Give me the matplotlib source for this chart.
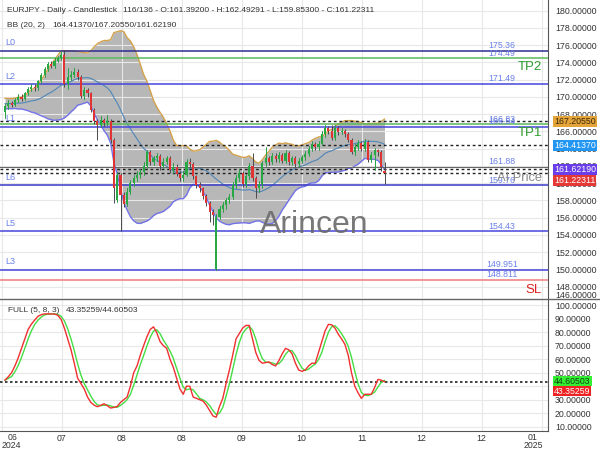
import numpy as np
import pandas as pd
import matplotlib
matplotlib.use('Agg')
import matplotlib.pyplot as plt
from matplotlib.transforms import blended_transform_factory

plt.rcParams['font.family'] = ['Liberation Sans', 'DejaVu Sans']

# ---------------- data ----------------
pre_closes = [168.8, 169.3, 169.0, 169.5, 169.7, 169.2, 168.9, 169.4, 169.8, 169.5,
              169.0, 168.7, 169.1, 169.6, 169.3, 168.9, 169.2, 169.5, 169.0]
first_open = 168.2
open_overrides = {34: 158.0, 64: 150.0, 115: 161.392}
closes = [168.9, 169.3, 169.1, 169.6, 170.0, 169.8, 170.4, 170.9, 171.2, 171.0, 171.8, 172.5, 173.2, 173.8, 173.6, 174.2, 174.5, 174.9,
          171.5, 172.3, 172.6, 172.9, 172.3, 170.1, 170.8, 170.4, 168.5, 167.2, 166.8, 167.3, 167.0, 167.2, 165.0, 159.5,
          161.0, 158.6, 157.6, 159.0, 160.0, 160.6, 160.9, 161.3, 162.0, 163.6, 162.4, 162.9, 163.2, 162.0, 162.5, 162.9, 161.5,
          161.9, 161.1, 160.6, 161.0, 162.5, 162.2, 160.8, 159.8, 159.4, 158.5, 157.7, 156.7, 156.3, 156.1,
          157.0, 157.5, 158.0, 158.4, 159.8, 160.6, 161.2, 159.9, 160.8, 162.0, 160.6, 159.4, 159.9, 162.3, 162.9, 162.5,
          163.2, 162.8, 163.3, 162.6, 163.5, 162.4, 162.9, 162.2, 162.6, 163.0, 163.4, 164.0, 164.6, 164.2, 164.6, 165.7, 166.4, 166.0, 165.2,
          166.4, 165.9, 166.1, 165.7, 165.0, 163.6, 164.2, 164.7, 164.0, 164.8, 162.7, 163.3, 163.8, 163.6, 161.9, 161.223]
highs = [169.2, 169.6, 169.5, 169.9, 170.3, 170.3, 170.6, 171.2, 171.5, 171.5, 172.0, 172.8, 173.5, 174.1, 174.2, 174.5, 174.8, 175.3,
         175.4, 173.4, 173.0, 173.3, 173.2, 172.5, 171.2, 171.0, 170.6, 168.7, 167.4, 167.8, 167.6, 167.9, 167.4, 165.2,
         161.3, 161.2, 159.0, 159.4, 160.4, 161.0, 161.4, 161.7, 162.4, 163.9, 163.8, 163.2, 163.5, 163.4, 162.9, 163.2, 163.1,
         162.3, 162.2, 161.4, 161.4, 162.8, 162.9, 162.4, 161.0, 160.1, 159.6, 158.7, 157.9, 157.0, 156.4,
         157.3, 157.8, 158.3, 158.8, 160.1, 160.9, 161.6, 161.4, 161.1, 162.3, 163.5, 160.8, 160.3, 162.6, 164.2, 163.2,
         163.5, 163.5, 163.6, 163.5, 163.8, 163.7, 163.2, 163.1, 162.9, 163.3, 163.7, 164.3, 164.9, 164.8, 164.9, 166.0, 166.7, 166.6, 166.7,
         166.7, 166.6, 166.4, 166.3, 165.9, 165.2, 164.5, 165.0, 164.9, 165.1, 165.0, 163.6, 164.1, 164.0, 163.8, 162.493]
lows = [167.6, 168.6, 168.8, 168.9, 169.4, 169.5, 169.6, 170.2, 170.7, 170.7, 170.8, 171.6, 172.3, 173.0, 173.3, 173.4, 174.0, 174.3,
        171.2, 170.9, 172.0, 172.3, 172.0, 169.9, 169.8, 170.0, 168.2, 166.9, 165.0, 166.5, 166.6, 166.8, 164.7, 157.7,
        157.8, 154.4, 157.2, 157.3, 158.7, 159.7, 160.2, 160.6, 161.0, 161.8, 162.1, 162.1, 162.6, 161.5, 161.8, 162.2, 161.2,
        161.2, 160.8, 160.3, 160.3, 160.8, 161.9, 160.5, 159.5, 159.0, 158.2, 157.4, 155.5, 155.2, 149.95,
        155.8, 156.7, 157.0, 157.7, 158.2, 159.5, 160.3, 159.6, 159.6, 160.5, 160.3, 158.3, 159.0, 159.4, 162.0, 162.1,
        162.2, 162.4, 162.5, 162.3, 162.3, 162.1, 162.1, 161.9, 161.9, 162.3, 162.7, 163.1, 163.7, 163.9, 163.9, 164.4, 165.4, 165.7, 165.0,
        165.0, 165.6, 165.7, 165.4, 164.8, 163.4, 163.3, 163.9, 163.7, 163.7, 162.4, 162.4, 161.5, 163.2, 161.4, 159.853]
stoch_k = [44.5, 47, 50, 55, 61, 68, 75, 82, 86, 89,
           91.8, 93, 93.6, 93.6, 93.5, 93.5, 92.5, 89.5, 83, 75,
           67, 57, 46, 42, 38, 32, 28, 26, 24.8, 25.8,
           27, 25.5, 23.8, 24.3, 25, 28, 30, 32, 40, 50,
           55, 63, 70, 76.5, 82, 84, 79.5, 73, 70, 68,
           60, 54, 46, 38, 34, 40, 40, 32, 31, 30,
           29, 26, 22, 18, 17, 25, 31, 42, 52, 63,
           75, 79, 83, 85, 85, 75, 65, 59, 57, 57.5,
           58, 56, 55, 59, 64, 68, 67, 64, 57, 52,
           51, 52, 55, 57, 57, 65, 73, 81, 85.8, 85.5,
           83, 78.5, 75, 71, 63, 50, 40, 35, 31, 34,
           34, 34, 39, 45, 44.5, 43.35]

bb_mid_last, bb_up_last, bb_lo_last = 164.41370, 167.20550, 161.62190
last_close = 161.22311
stoch_k_last, stoch_d_last = 43.35259, 44.60503

# level lines: (price, left label, colour)
blue_levels = [(175.36, 'L0', '#2c2c90'), (171.49, 'L2', '#4646dc'), (166.54, 'L1', '#4646dc'),
               (159.76, 'L6', '#3a3ac8'), (154.43, 'L5', '#4646dc'), (149.951, 'L3', '#4646dc')]
green_levels = [(174.49, 'TP2'), (166.83, 'TP1')]
red_levels = [(148.811, 'SL')]
gray_levels = [161.88]
right_labels = ['175.36', '174.49', '171.49', '166.83', '166.54', '161.88', '159.76', '154.43', '149.951', '148.811']

x_tick_labels = ['06', '07', '08', '08', '09', '10', '11', '12', '12', '01']
year_labels = ['2024', '2025']
price_ticks = list(range(148, 181, 2))
stoch_ticks = list(range(10, 101, 10))

# ---------------- derived ----------------
n = len(closes)
x = np.arange(n)
opens = [first_open] + closes[:-1]
for kk, v in open_overrides.items():
    opens[kk] = v
o = np.array(opens); c = np.array(closes); h = np.array(highs); l = np.array(lows)

full = pd.Series(pre_closes + closes)
mid = full.rolling(20).mean().to_numpy()[-n:]
sd = full.rolling(20).std(ddof=0).to_numpy()[-n:]
up_band = mid + 2 * sd
lo_band = mid - 2 * sd

k = pd.Series(stoch_k)
d = k.rolling(3, min_periods=1).mean()

# ---------------- figure ----------------
W, H = 600, 450
fig = plt.figure(figsize=(6, 4.5), dpi=100)
axw = 548 / W
ax = fig.add_axes([0, 1 - 298 / H, axw, 298 / H])
ax2 = fig.add_axes([0, 1 - 431 / H, axw, (431 - 299) / H])

px_per_bar = 3.3
x0 = -5 / px_per_bar
x1 = x0 + 548 / px_per_bar
tick_pos = x0 + (1.7 + 60 * np.arange(len(x_tick_labels))) / px_per_bar

for a in (ax, ax2):
    a.set_xlim(x0, x1)
    a.set_xticks(tick_pos)
    a.grid(True, color='#e8e8e8', lw=0.8, zorder=0)
    a.yaxis.tick_right()
    a.tick_params(axis='both', length=0, labelsize=6.3, colors='#333333', pad=5)
    for s in ('left', 'top', 'bottom'):
        a.spines[s].set_visible(False)
    a.spines['right'].set_color('#555555')

ax.set_ylim(146.69, 181.24)
ax.set_yticks(price_ticks)
ax.set_yticklabels([f'{t:.5f}' for t in price_ticks])
ax.tick_params(axis='x', labelbottom=False)

# Bollinger band
ax.fill_between(x, lo_band, up_band, color='#ababab', alpha=0.85, lw=0, zorder=1)
ax.plot(x, up_band, color='#d4a24a', lw=1.0, zorder=2)
ax.plot(x, lo_band, color='#7474ea', lw=1.0, zorder=2)
ax.plot(x, mid, color='#4f86b8', lw=0.8, zorder=2)

# level lines
for p, lab, col in blue_levels:
    ax.axhline(p, color=col, lw=1.1, zorder=3)
    ax.annotate(lab, xy=(0, p), xytext=(0, 2.5), textcoords='offset points',
                ha='left', va='bottom', fontsize=6.5, color='#6a80e8', zorder=6)
for p, lab in green_levels:
    ax.axhline(p, color='#5cb85c', lw=1.1, zorder=3)
    ax.annotate(lab, xy=(162.7, p), xytext=(0, -2), textcoords='offset points',
                ha='right', va='top', fontsize=9.5, color='#2e9b2e', zorder=6)
for p, lab in red_levels:
    ax.axhline(p, color='#f07c7c', lw=1.1, zorder=3)
    ax.annotate(lab, xy=(162.7, p), xytext=(0, -3), textcoords='offset points',
                ha='right', va='top', fontsize=9.5, color='#e02020', zorder=6)
for p in gray_levels:
    ax.axhline(p, color='#666666', lw=0.8, zorder=3)
for p in (bb_up_last, bb_mid_last, bb_lo_last, last_close):
    ax.axhline(p, color='#222222', lw=1.0, ls=(0, (2, 2)), zorder=3)

for t in right_labels:
    ax.annotate(t, xy=(150.6, float(t)), xytext=(0, 0.5), textcoords='offset points',
                ha='center', va='bottom', fontsize=6.3, color='#6a80e8', zorder=6)

# candles
upc = c >= o
cols = np.where(upc, '#27a844', '#e03434')
ax.vlines(x, l, h, color='#4a4a4a', lw=0.7, zorder=4)
ax.vlines(x[upc], l[upc], h[upc], color='#27a844', lw=0.7, zorder=4)
body_lo = np.minimum(o, c)
body_h = np.maximum(np.abs(c - o), 0.08)
ax.bar(x, body_h, bottom=body_lo, width=0.65, color=cols, lw=0, zorder=5)

# texts on main panel
ax.text(541.7 / 548, 160.55, 'AI Price', transform=blended_transform_factory(ax.transAxes, ax.transData),
        ha='right', va='center', fontsize=9.3, color='#8a8a8a', zorder=7)
ax.text(314 / 548, 1 - 225 / 298, 'Arincen', transform=ax.transAxes, ha='center', va='center',
        fontsize=23, color='#6a6a6a', alpha=0.9, zorder=7)

# stochastic panel
ax2.set_ylim(6.8, 104.6)
ax2.set_yticks(stoch_ticks)
ax2.set_yticklabels([f'{t:.5f}' for t in stoch_ticks])
ax2.set_xticklabels([''] + x_tick_labels[1:-1] + [''])
ax2.spines['bottom'].set_visible(True)
ax2.spines['bottom'].set_color('#555555')
ax2.plot(x, k, color='#f03030', lw=1.0, zorder=4)
ax2.plot(x, d, color='#44dd44', lw=1.0, zorder=3)
ax2.axhline(stoch_k_last, color='#222222', lw=1.2, ls=(0, (1.5, 1.5)), zorder=2)
ax2.tick_params(axis='x', pad=2)

# first/last month labels (kept inside the frame) and year labels
def btext(px, py, s, ha='center'):
    fig.text(px / W, 1 - py / H, s, ha=ha, va='center', fontsize=6.3, color='#333333')

btext(12.5, 437.5, x_tick_labels[0])
btext(532.5, 437.5, x_tick_labels[-1])
btext(11.5, 445, year_labels[0])
btext(533.5, 445, year_labels[1])

# separator line
fig.add_artist(plt.Line2D([0, 1], [1 - 299 / H, 1 - 299 / H], color='#666666', lw=1.0, transform=fig.transFigure))

# headers
def ftext(px, py, s, fs=6.0, **kw):
    fig.text(px / W, 1 - py / H, s, va='center', ha='left', fontsize=fs, color='#333333', **kw)

ftext(7, 10.7, 'EURJPY - Daily - Candlestick')
ftext(123, 10.7, '116/136 - O:161.39200 - H:162.49291 - L:159.85300 - C:161.22311')
ftext(7, 25.7, 'BB (20, 2)')
ftext(52, 25.7, f'{bb_mid_last:.5f}/{bb_up_last:.5f}/{bb_lo_last:.5f}')
ftext(8, 311, 'FULL (5, 8, 3)')
ftext(66, 311, f'{stoch_k_last:.5f}/{stoch_d_last:.5f}')

# extra bottom label of price axis
ftext(555, 295.5, '146.00000', fs=6.3)

# value boxes on the right axis
def vbox(py, s, fc, tc):
    fig.text(554 / W, 1 - py / H, s, va='center', ha='left', fontsize=6.3, color=tc, zorder=10,
             bbox=dict(boxstyle='square,pad=0.1', fc=fc, ec='none'))

vbox(121.5, f'{bb_up_last:.5f}', '#e4a437', '#3a2a10')
vbox(145.5, f'{bb_mid_last:.5f}', '#2196f3', 'white')
vbox(169.5, f'{bb_lo_last:.5f}', '#6a3ee8', 'white')
vbox(180.5, f'{last_close:.5f}', '#e53935', 'white')
vbox(381, f'{stoch_d_last:.5f}', '#33ee33', '#114411')
vbox(391, f'{stoch_k_last:.5f}', '#ee2222', 'white')

fig.savefig('out.png', dpi=100)
